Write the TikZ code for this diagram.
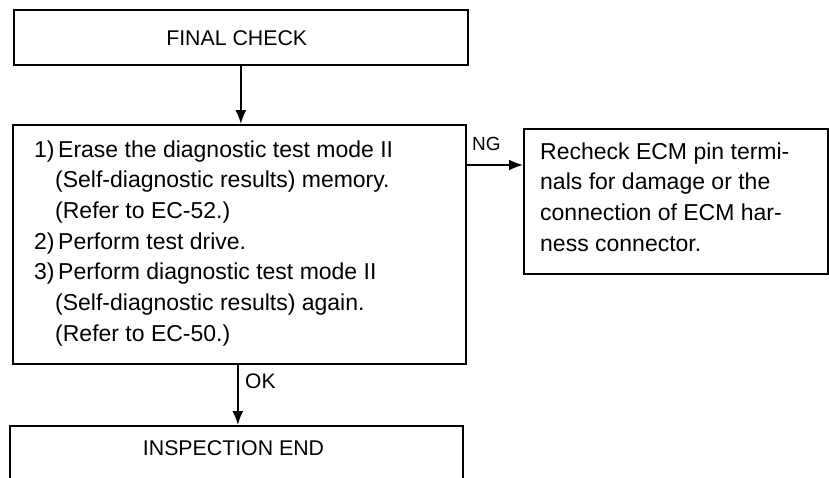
\documentclass[tikz,border=0pt]{standalone}
\usepackage{fontspec}
\setmainfont{Liberation Sans}
\usetikzlibrary{arrows.meta}
\tikzset{
  boxshape/.style={draw=black, line width=1.7pt, rectangle, inner sep=0pt, anchor=north west},
  arr/.style={line width=1.7pt, -{Latex[length=14pt,width=11pt]}},
  bodytext/.style={inner sep=0pt, anchor=north west, align=left,
    font=\fontsize{23}{30.7}\selectfont},
  titletext/.style={inner sep=0pt, anchor=base, font=\fontsize{21.3}{25}\selectfont},
  lbl/.style={inner sep=0pt, anchor=base west}
}
\newcommand{\itemnum}[1]{\makebox[24pt][l]{#1}}
\newcommand{\contind}{\hspace*{21pt}}
\begin{document}
\begin{tikzpicture}[x=1pt,y=-1pt]
\useasboundingbox (0,0) rectangle (829,477);
% boxes
\node[boxshape, minimum width=454pt, minimum height=55pt] (b1) at (13,9) {};
\node[boxshape, minimum width=453pt, minimum height=239pt] (b2) at (12,124) {};
\node[boxshape, minimum width=304pt, minimum height=145pt] (b3) at (523,128) {};
\node[boxshape, minimum width=453pt, minimum height=70pt] (b4) at (9,425) {};
% texts
\node[titletext] (t1) at (236.7,45) {FINAL CHECK};
\node[bodytext] (t2) at (34,140.2) {\itemnum{1)}Erase the diagnostic test mode II\\
\contind(Self-diagnostic results) memory.\\
\contind(Refer to EC-52.)\\
\itemnum{2)}Perform test drive.\\
\itemnum{3)}Perform diagnostic test mode II\\
\contind(Self-diagnostic results) again.\\
\contind(Refer to EC-50.)};
\node[bodytext] (t3) at (540,142.2) {Recheck ECM pin termi-\\
nals for damage or the\\
connection of ECM har-\\
ness connector.};
\node[titletext] (t4) at (233.5,455) {INSPECTION END};
% connectors
\coordinate (ngy) at (0,165);
\draw[arr] (b1.south) -- (b1.south |- b2.north);
\draw[arr] (b2.east |- ngy) -- (b3.west |- ngy);
\draw[arr] ([xshift=-1.5pt]b2.south) -- ([xshift=-1.5pt]b2.south |- b4.north);
% labels
\node[lbl, font=\fontsize{19}{21}\selectfont] (ng) at (472,150) {NG};
\node[lbl, font=\fontsize{21}{24}\selectfont] (ok) at (245,388) {OK};
\end{tikzpicture}
\end{document}
